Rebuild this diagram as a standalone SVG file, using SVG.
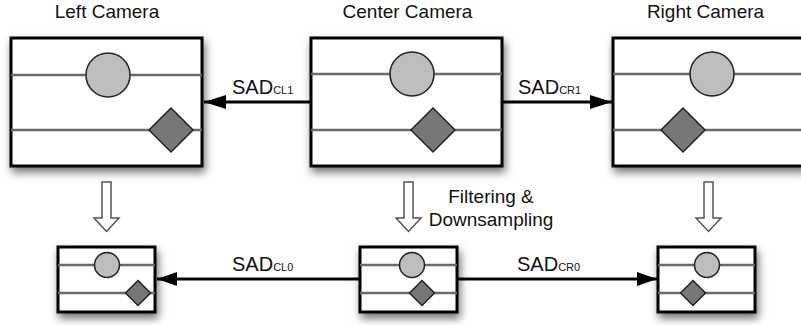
<svg xmlns="http://www.w3.org/2000/svg" width="801" height="325" viewBox="0 0 801 325">
<defs>
<filter id="sh" x="-20%" y="-20%" width="140%" height="150%">
<feDropShadow dx="2" dy="5" stdDeviation="4" flood-color="#000" flood-opacity="0.55"/>
</filter>
<marker id="ah" viewBox="0 0 22 14" refX="22" refY="7" markerWidth="22" markerHeight="14" markerUnits="userSpaceOnUse" orient="auto">
<path d="M0,0 L22,7 L0,14 Z" fill="#000"/>
</marker>
<marker id="ahs" viewBox="0 0 20 14" refX="20" refY="7" markerWidth="20" markerHeight="14" markerUnits="userSpaceOnUse" orient="auto">
<path d="M0,0 L20,7 L0,14 Z" fill="#000"/>
</marker>
</defs>
<style>
.frame{fill:#fff;stroke:#000;stroke-width:3;filter:url(#sh)}
.ln{stroke:#6a6a6a;stroke-width:2.5;fill:none}
.cir{fill:#bdbdbd;stroke:#222;stroke-width:1.5}
.dia{fill:#777;stroke:#222;stroke-width:1.5}
.t{font-family:"Liberation Sans",Arial,sans-serif;font-size:19px;fill:#111}
.s{font-family:"Liberation Sans",Arial,sans-serif;font-size:20px;fill:#111}
.sub{font-size:11px}
.conn{stroke:#000;stroke-width:3;fill:none}
.hollow{fill:#fff;stroke:#555;stroke-width:1.5}
</style>

<text class="t" x="107" y="18" text-anchor="middle">Left Camera</text>
<text class="t" x="407.5" y="18" text-anchor="middle">Center Camera</text>
<text class="t" x="705.5" y="18" text-anchor="middle">Right Camera</text>

<g id="left-camera">
<rect class="frame" x="11" y="38" width="191" height="128"/>
<line class="ln" x1="11" y1="75" x2="202" y2="75"/>
<line class="ln" x1="11" y1="130" x2="202" y2="130"/>
<circle class="cir" cx="108" cy="75" r="22"/>
<polygon class="dia" points="171,108 193,130 171,152 149,130"/>
</g>

<g id="center-camera">
<rect class="frame" x="311" y="38" width="191" height="128"/>
<line class="ln" x1="311" y1="74" x2="502" y2="74"/>
<line class="ln" x1="311" y1="130" x2="502" y2="130"/>
<circle class="cir" cx="412" cy="74" r="22"/>
<polygon class="dia" points="433,108 455,130 433,152 411,130"/>
</g>

<g id="right-camera">
<rect class="frame" x="613" y="38" width="191" height="128"/>
<line class="ln" x1="613" y1="74" x2="804" y2="74"/>
<line class="ln" x1="613" y1="130" x2="804" y2="130"/>
<circle class="cir" cx="712" cy="74" r="22"/>
<polygon class="dia" points="683,108 705,130 683,152 661,130"/>
</g>

<g id="left-small">
<rect class="frame" x="58" y="247" width="97" height="65"/>
<line class="ln" x1="58" y1="265" x2="155" y2="265"/>
<line class="ln" x1="58" y1="293" x2="155" y2="293"/>
<circle class="cir" cx="107" cy="265" r="12.5"/>
<polygon class="dia" points="138,280.5 150.5,293 138,305.5 125.5,293"/>
</g>

<g id="center-small">
<rect class="frame" x="360" y="247" width="97" height="65"/>
<line class="ln" x1="360" y1="265" x2="457" y2="265"/>
<line class="ln" x1="360" y1="293" x2="457" y2="293"/>
<circle class="cir" cx="412" cy="265" r="12.5"/>
<polygon class="dia" points="422,280.5 434.5,293 422,305.5 409.5,293"/>
</g>

<g id="right-small">
<rect class="frame" x="658" y="247" width="97" height="65"/>
<line class="ln" x1="658" y1="265" x2="755" y2="265"/>
<line class="ln" x1="658" y1="293" x2="755" y2="293"/>
<circle class="cir" cx="707" cy="265" r="12.5"/>
<polygon class="dia" points="693,280.5 705.5,293 693,305.5 680.5,293"/>
</g>

<g id="connectors">
<line class="conn" x1="311" y1="102" x2="204" y2="102" marker-end="url(#ah)"/>
<line class="conn" x1="502" y1="102" x2="612" y2="102" marker-end="url(#ah)"/>
<line class="conn" x1="360" y1="279" x2="157" y2="279" marker-end="url(#ahs)"/>
<line class="conn" x1="457" y1="279" x2="657" y2="279" marker-end="url(#ahs)"/>
<polygon class="hollow" points="102,182 111,182 111,218 119,218 106.5,231.5 94,218 102,218"/>
<polygon class="hollow" points="404,182 413,182 413,218 421,218 408.5,231.5 396,218 404,218"/>
<polygon class="hollow" points="704,182 713,182 713,218 721,218 708.5,231.5 696,218 704,218"/>
</g>

<text class="s" x="232" y="94">SAD<tspan class="sub">CL1</tspan></text>
<text class="s" x="518" y="94">SAD<tspan class="sub">CR1</tspan></text>
<text class="s" x="232" y="271">SAD<tspan class="sub">CL0</tspan></text>
<text class="s" x="517" y="271">SAD<tspan class="sub">CR0</tspan></text>
<text class="t" x="491" y="203" text-anchor="middle">Filtering &amp;</text>
<text class="t" x="491" y="226" text-anchor="middle">Downsampling</text>
</svg>
